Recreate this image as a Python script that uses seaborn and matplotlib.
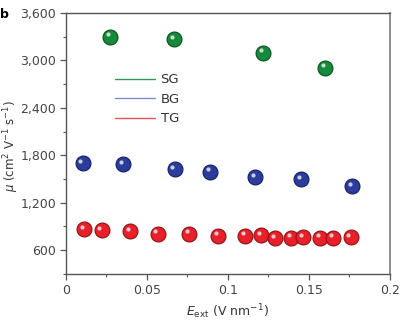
import numpy as np
import pandas as pd
import seaborn as sns
import matplotlib
matplotlib.use("Agg")
import matplotlib.pyplot as plt
from matplotlib.ticker import FuncFormatter, MultipleLocator
from matplotlib.transforms import offset_copy

# Mobility vs external field for three gating geometries
sg_field = [0.0272, 0.0669, 0.1218, 0.1600]
sg_mu = [3300, 3267, 3098, 2908]

bg_field = [0.0103, 0.0354, 0.0671, 0.0889, 0.1170, 0.1453, 0.1767]
bg_mu = [1697, 1685, 1622, 1591, 1524, 1495, 1410]

tg_field = [0.0111, 0.0220, 0.0397, 0.0566, 0.0759, 0.0940, 0.1107,
            0.1206, 0.1292, 0.1389, 0.1465, 0.1568, 0.1650, 0.1757]
tg_mu = [866, 853, 841, 806, 806, 781, 781, 786, 748, 756, 760, 756, 756, 760]

series = ["SG", "BG", "TG"]
ball_colors = {"SG": "#17893a", "BG": "#2b3c9c", "TG": "#e8202a"}
edge_colors = {"SG": "#0b4d1f", "BG": "#141f5c", "TG": "#8c1015"}
legend_colors = {"SG": "#2f9a58", "BG": "#7f8ccc", "TG": "#e05555"}

df = pd.concat([
    pd.DataFrame({"field": sg_field, "mu": sg_mu, "gate": "SG"}),
    pd.DataFrame({"field": bg_field, "mu": bg_mu, "gate": "BG"}),
    pd.DataFrame({"field": tg_field, "mu": tg_mu, "gate": "TG"}),
], ignore_index=True)

sns.set_theme(style="white")
plt.rcParams["font.family"] = ["DejaVu Sans"]
plt.rcParams["mathtext.fontset"] = "dejavusans"

fig = plt.figure(figsize=(4.02, 3.26), dpi=100)
ax = fig.add_axes([0.164, 0.16, 0.806, 0.80])

for g in series:
    sub = df[df.gate == g]
    sns.scatterplot(data=sub, x="field", y="mu", ax=ax, s=115,
                    color=ball_colors[g], edgecolor=edge_colors[g],
                    linewidth=0.8, legend=False, zorder=3)
    # glossy highlight on each ball
    hl = offset_copy(ax.transData, fig=fig, x=-1.6, y=1.8, units="points")
    ax.scatter(sub["field"], sub["mu"], s=9, color="white", alpha=0.75,
               linewidths=0, transform=hl, zorder=4)

# legend drawn as plain line handles
handles = [plt.Line2D([], [], color=legend_colors[g], lw=1.0) for g in series]
leg = ax.legend(handles, series, loc="upper left",
                bbox_to_anchor=(0.115, 0.815), frameon=False,
                handlelength=3.0, handletextpad=0.45, labelspacing=0.5,
                fontsize=9.5)
for t in leg.get_texts():
    t.set_color("#333333")

ax.set_xlim(0, 0.2)
ax.set_ylim(300, 3600)
ax.xaxis.set_major_locator(MultipleLocator(0.05))
ax.xaxis.set_minor_locator(MultipleLocator(0.025))
ax.yaxis.set_major_locator(MultipleLocator(600))
ax.yaxis.set_minor_locator(MultipleLocator(300))
ax.xaxis.set_major_formatter(FuncFormatter(lambda v, p: f"{v:g}"))
ax.yaxis.set_major_formatter(FuncFormatter(lambda v, p: f"{int(v):,}"))

spine_col = "#555555"
for side, sp in ax.spines.items():
    sp.set_color(spine_col)
    sp.set_linewidth(1.0)
ax.spines["right"].set_color("#888888")
ax.spines["right"].set_linewidth(1.3)

ax.tick_params(axis="both", which="major", direction="out", length=4,
               width=0.9, color=spine_col, labelsize=9,
               labelcolor="#444444", bottom=True, left=True,
               top=False, right=False, pad=3)
ax.tick_params(axis="both", which="minor", direction="out", length=2.5,
               width=0.8, color=spine_col, bottom=True, left=True,
               top=False, right=False)

ax.set_xlabel(r"$E_{\rm ext}$ (V nm$^{-1}$)", fontsize=9, color="#333333")
ax.set_ylabel(r"$\mu$ (cm$^2$ V$^{-1}$ s$^{-1}$)", fontsize=8.5,
              color="#333333")
ax.xaxis.set_label_coords(0.5, -0.11)
ax.yaxis.set_label_coords(-0.14, 0.49)
ax.grid(False)

fig.text(0.0, 0.975, "b", fontsize=9, fontweight="bold", color="black",
         va="top", ha="left")

fig.savefig("out.png", dpi=100)
